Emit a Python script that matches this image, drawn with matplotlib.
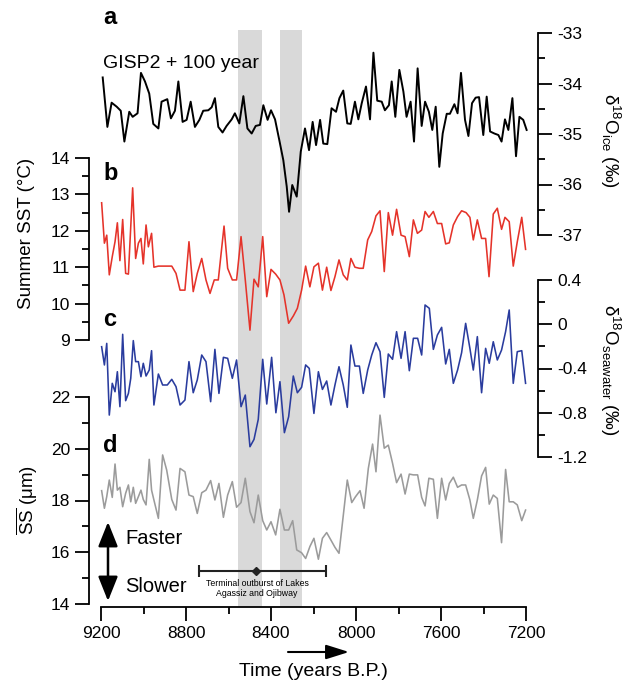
import matplotlib
matplotlib.use('Agg')
import matplotlib.pyplot as plt
from matplotlib.ticker import MultipleLocator, FuncFormatter
from matplotlib.patches import FancyArrowPatch

plt.rcParams['font.family'] = ['Liberation Sans', 'DejaVu Sans']
plt.rcParams['mathtext.fontset'] = 'custom'
plt.rcParams['mathtext.rm'] = 'Liberation Sans'
plt.rcParams['mathtext.it'] = 'Liberation Sans:italic'
plt.rcParams['mathtext.bf'] = 'Liberation Sans:bold'
plt.rcParams['axes.unicode_minus'] = False

# ---------------- data ----------------
gisp_year = [9192, 9170, 9150, 9126, 9107, 9090, 9067, 9051, 9028, 9012, 8993, 8973, 8954, 8930,
             8915, 8888, 8871, 8852, 8836, 8816, 8797, 8778, 8758, 8737, 8719, 8695, 8679, 8664,
             8648, 8628, 8609, 8585, 8570, 8549, 8530, 8511, 8491, 8472, 8452, 8436, 8416, 8400,
             8381, 8361, 8342, 8326, 8315, 8300, 8279, 8260, 8240, 8221, 8204, 8188, 8169, 8154,
             8135, 8115, 8094, 8078, 8060, 8041, 8025, 8005, 7989, 7973, 7953, 7934, 7918, 7900,
             7879, 7864, 7845, 7832, 7815, 7796, 7777, 7762, 7743, 7727, 7710, 7691, 7675, 7657,
             7641, 7625, 7608, 7592, 7573, 7558, 7537, 7522, 7506, 7487, 7471, 7454, 7437, 7421,
             7401, 7385, 7369, 7349, 7330, 7315, 7299, 7283, 7264, 7247, 7231, 7213, 7197]
gisp_d18o = [-33.88, -34.86, -34.38, -34.46, -34.54, -35.15, -34.56, -34.66, -34.59, -33.79, -33.96,
             -34.20, -34.80, -34.89, -34.36, -34.31, -34.69, -34.54, -33.96, -34.76, -34.72, -34.36,
             -34.86, -34.72, -34.54, -34.53, -34.47, -34.29, -34.86, -34.97, -34.84, -34.71, -34.59,
             -34.79, -34.25, -34.89, -34.99, -34.84, -34.82, -34.43, -34.72, -34.53, -34.71, -35.12,
             -35.52, -36.04, -36.54, -36.01, -36.24, -35.35, -34.89, -35.32, -34.76, -35.22, -34.72,
             -35.19, -35.20, -34.49, -34.56, -34.29, -34.14, -34.79, -34.80, -34.36, -34.71, -34.39,
             -34.06, -34.71, -33.39, -34.34, -34.36, -34.53, -34.43, -33.96, -34.66, -33.73, -34.16,
             -34.66, -34.36, -35.15, -33.70, -34.84, -34.36, -34.56, -34.92, -34.46, -35.65, -34.99,
             -34.60, -34.60, -34.41, -34.59, -33.79, -34.72, -35.04, -34.39, -34.28, -34.27, -35.02,
             -34.26, -34.95, -34.99, -35.02, -35.15, -34.71, -34.92, -34.29, -35.44, -34.66, -34.72,
             -34.92]

sst_year = [9197, 9184, 9173, 9161, 9147, 9134, 9123, 9111, 9098, 9084, 9071, 9051, 9037, 9024,
            9012, 9001, 8988, 8977, 8962, 8951, 8930, 8867, 8847, 8828, 8805, 8786, 8766, 8747,
            8726, 8706, 8687, 8667, 8648, 8621, 8604, 8582, 8562, 8541, 8521, 8499, 8480, 8460,
            8439, 8420, 8400, 8378, 8358, 8339, 8317, 8295, 8276, 8256, 8237, 8217, 8198, 8177,
            8158, 8138, 8118, 8099, 8080, 8060, 8041, 8024, 8005, 7984, 7966, 7945, 7926, 7906,
            7887, 7867, 7848, 7828, 7809, 7788, 7769, 7749, 7730, 7711, 7691, 7675, 7657, 7636,
            7617, 7597, 7578, 7561, 7542, 7522, 7503, 7482, 7464, 7448, 7429, 7409, 7390, 7374,
            7354, 7335, 7315, 7299, 7279, 7260, 7241, 7220, 7202]
sst = [12.77, 11.66, 11.88, 10.79, 11.29, 11.70, 12.22, 11.18, 12.31, 10.83, 10.81, 13.18, 11.24,
       11.66, 11.79, 11.09, 12.16, 11.56, 11.93, 11.00, 11.03, 11.03, 10.83, 10.37, 10.37, 11.70,
       10.33, 10.83, 11.24, 10.65, 10.28, 10.65, 10.65, 12.13, 10.97, 10.65, 10.65, 11.84, 10.65,
       9.27, 10.67, 10.46, 11.84, 10.19, 10.94, 10.81, 10.65, 10.24, 9.46, 9.66, 9.87, 10.37,
       11.03, 10.46, 11.01, 11.11, 10.37, 11.00, 10.36, 10.74, 11.20, 10.79, 10.65, 11.24, 11.00,
       10.97, 10.97, 11.75, 11.98, 12.41, 12.55, 10.88, 12.50, 11.88, 12.59, 11.88, 11.84, 11.29,
       12.30, 11.93, 12.02, 12.53, 12.37, 12.53, 12.20, 12.20, 11.64, 11.67, 12.16, 12.39, 12.55,
       12.50, 12.37, 11.75, 12.30, 11.79, 11.79, 10.74, 12.46, 12.62, 12.04, 12.37, 12.25, 11.03,
       11.70, 12.37, 11.49]

sw_year = [9197, 9184, 9173, 9161, 9147, 9134, 9123, 9111, 9098, 9084, 9071, 9060, 9048, 9037,
           9024, 9012, 9001, 8988, 8973, 8962, 8951, 8930, 8910, 8888, 8867, 8847, 8828, 8805,
           8786, 8766, 8747, 8726, 8706, 8684, 8664, 8645, 8624, 8604, 8582, 8562, 8541, 8521,
           8499, 8480, 8460, 8439, 8420, 8397, 8377, 8358, 8337, 8317, 8295, 8276, 8256, 8237,
           8220, 8198, 8177, 8158, 8138, 8118, 8099, 8080, 8060, 8041, 8024, 8005, 7984, 7966,
           7945, 7926, 7906, 7887, 7867, 7848, 7828, 7809, 7788, 7769, 7749, 7730, 7710, 7691,
           7675, 7655, 7636, 7617, 7597, 7578, 7561, 7542, 7522, 7503, 7484, 7464, 7448, 7429,
           7409, 7390, 7373, 7354, 7335, 7315, 7296, 7279, 7260, 7241, 7220, 7202]
d18o_sw = [-0.203, -0.368, -0.173, -0.821, -0.534, -0.610, -0.429, -0.745, -0.091, -0.691, -0.625,
           -0.489, -0.148, -0.338, -0.338, -0.474, -0.353, -0.468, -0.414, -0.239, -0.730, -0.450,
           -0.549, -0.549, -0.498, -0.564, -0.730, -0.685, -0.338, -0.619, -0.504, -0.278, -0.338,
           -0.700, -0.227, -0.625, -0.299, -0.308, -0.489, -0.323, -0.745, -0.640, -1.107, -1.041,
           -0.860, -0.317, -0.721, -0.299, -0.800, -0.519, -0.980, -0.836, -0.468, -0.619, -0.570,
           -0.368, -0.399, -0.806, -0.429, -0.589, -0.513, -0.730, -0.549, -0.384, -0.549, -0.751,
           -0.188, -0.378, -0.378, -0.625, -0.414, -0.278, -0.167, -0.248, -0.661, -0.269, -0.317,
           -0.067, -0.308, -0.067, -0.420, -0.127, -0.127, -0.278, 0.174, 0.144, -0.227, -0.097,
           -0.028, -0.359, -0.227, -0.534, -0.414, -0.257, 0.008, -0.218, -0.414, -0.112, -0.619,
           -0.218, -0.353, -0.158, -0.323, -0.233, -0.067, 0.129, -0.534, -0.248, -0.239, -0.534]

ss_year = [9197, 9184, 9173, 9161, 9147, 9134, 9123, 9111, 9098, 9084, 9071, 9060, 9048, 9037,
           9024, 9012, 9001, 8988, 8973, 8962, 8951, 8930, 8910, 8891, 8867, 8847, 8828, 8805,
           8786, 8766, 8747, 8726, 8706, 8684, 8664, 8645, 8624, 8604, 8582, 8562, 8541, 8521,
           8499, 8480, 8460, 8439, 8420, 8400, 8378, 8358, 8337, 8317, 8298, 8279, 8256, 8237,
           8217, 8198, 8177, 8158, 8138, 8118, 8099, 8080, 8041, 8020, 8002, 7981, 7962, 7942,
           7922, 7906, 7887, 7867, 7848, 7828, 7809, 7788, 7769, 7749, 7730, 7710, 7691, 7675,
           7657, 7636, 7617, 7597, 7578, 7561, 7542, 7522, 7503, 7484, 7464, 7448, 7429, 7409,
           7390, 7373, 7354, 7335, 7315, 7296, 7279, 7260, 7241, 7220, 7202]
ss = [18.38, 17.70, 18.15, 18.79, 18.12, 19.41, 18.40, 18.51, 17.76, 18.28, 18.60, 17.95, 18.51,
      17.89, 18.15, 18.40, 18.04, 17.83, 19.59, 18.40, 18.02, 17.31, 19.76, 19.18, 18.04, 17.63,
      19.24, 19.11, 18.21, 18.15, 17.50, 18.30, 18.40, 18.77, 18.02, 18.66, 17.35, 18.21, 18.73,
      17.74, 17.92, 18.86, 17.57, 17.14, 18.21, 17.22, 16.86, 17.18, 16.67, 17.66, 16.86, 16.86,
      17.22, 16.09, 15.98, 15.76, 16.22, 16.54, 15.73, 16.54, 16.76, 16.47, 16.19, 15.96, 18.79,
      17.92, 18.15, 18.38, 17.70, 19.24, 20.18, 19.11, 21.30, 20.02, 20.14, 19.44, 18.69, 19.02,
      18.25, 19.02, 18.99, 18.99, 18.12, 17.79, 18.86, 18.82, 17.31, 18.86, 18.02, 18.66, 18.90,
      18.51, 18.60, 18.60, 18.02, 17.31, 18.02, 18.95, 19.28, 17.86, 18.21, 18.08, 16.37, 19.20,
      17.95, 17.95, 17.83, 17.22, 17.63]

bands = [(8555, 8442), (8358, 8254)]          # shaded intervals (years B.P.)
outburst_year = 8470                          # terminal outburst estimate
outburst_err = [[330], [270]]                 # towards younger / older
outburst_level = 15.28                        # height on the grain-size scale

# ---------------- layout ----------------
W, H = 631, 682
fig = plt.figure(figsize=(W / 100, H / 100), dpi=100)


def add_px_axes(x0, x1, ytop, ybot, **kw):
    return fig.add_axes([x0 / W, 1 - ybot / H, (x1 - x0) / W, (ybot - ytop) / H], **kw)


def ftext(x, y, s, **kw):
    return fig.text(x / W, 1 - y / H, s, **kw)


def fmt(v, p):
    return '%g' % (round(v, 2) + 0.0)


X_L, X_R = 101, 526
XLIM = (9200, 7200)
LW_SP = 1.3
TICK_FS = 12.5

ax_bg = add_px_axes(X_L, X_R, 30, 607)
ax_bg.set_xlim(*XLIM)
ax_bg.set_ylim(0, 1)
for s in ['top', 'left', 'right']:
    ax_bg.spines[s].set_visible(False)
ax_bg.spines['bottom'].set_linewidth(LW_SP)
ax_bg.set_yticks([])
ax_bg.xaxis.set_major_locator(MultipleLocator(400))
ax_bg.xaxis.set_minor_locator(MultipleLocator(200))
ax_bg.tick_params(axis='x', which='major', length=10, width=LW_SP, labelsize=TICK_FS, pad=4)
ax_bg.tick_params(axis='x', which='minor', length=5, width=LW_SP)
for b0, b1 in bands:
    ax_bg.axvspan(b0, b1, color='#d9d9d9', lw=0, zorder=0)


def series_axes(ytop, ybot, side, ylim, major, minor):
    ax = add_px_axes(X_L, X_R, ytop, ybot)
    ax.patch.set_visible(False)
    ax.set_xlim(*XLIM)
    ax.set_ylim(*ylim)
    for s in ['top', 'bottom', 'left', 'right']:
        ax.spines[s].set_visible(s == side)
    ax.spines[side].set_linewidth(LW_SP)
    ax.spines[side].set_position(('outward', 8.3 if side == 'left' else 8.6))
    ax.set_xticks([])
    if side == 'right':
        ax.yaxis.set_ticks_position('right')
    else:
        ax.yaxis.set_ticks_position('left')
    ax.yaxis.set_major_locator(MultipleLocator(major))
    ax.yaxis.set_minor_locator(MultipleLocator(minor))
    ax.yaxis.set_major_formatter(FuncFormatter(fmt))
    ax.tick_params(axis='y', which='major', length=10, width=LW_SP, labelsize=TICK_FS, pad=4)
    ax.tick_params(axis='y', which='minor', length=5, width=LW_SP)
    return ax


ax_a = series_axes(33, 235, 'right', (-37, -33), 1, 0.5)
ax_b = series_axes(158, 340, 'left', (9, 14), 1, 0.5)
ax_c = series_axes(280, 457, 'right', (-1.2, 0.4), 0.4, 0.2)
ax_d = series_axes(397, 604, 'left', (14, 22), 2, 1)

ax_a.plot(gisp_year, gisp_d18o, color='black', lw=1.4, clip_on=False)
ax_b.plot(sst_year, sst, color='#e5332a', lw=1.15, clip_on=False)
ax_c.plot(sw_year, d18o_sw, color='#2a3c9e', lw=1.15, clip_on=False)
ax_d.plot(ss_year, ss, color='#9b9b9b', lw=1.15, clip_on=False)

ax_d.errorbar([outburst_year], [outburst_level], xerr=outburst_err, fmt='D', color='#222222',
              ms=4, lw=1.5, capsize=4.5, capthick=1.5, clip_on=False)

# ---------------- texts ----------------
for letter, yy in [('a', 17), ('b', 173), ('c', 320), ('d', 445)]:
    ftext(103, yy, letter, fontsize=17, fontweight='bold', ha='left', va='center')

ftext(103, 63, 'GISP2 + 100 year', fontsize=14, ha='left', va='center')
ftext(125, 538, 'Faster', fontsize=14.5, ha='left', va='center')
ftext(125, 587, 'Slower', fontsize=14.5, ha='left', va='center')
ftext(257, 583, 'Terminal outburst of Lakes', fontsize=6.3, ha='center', va='center')
ftext(257, 593, 'Agassiz and Ojibway', fontsize=6.3, ha='center', va='center')

ftext(313.5, 672, 'Time (years B.P.)', fontsize=14, ha='center', va='center')
ftext(27, 233, 'Summer SST (°C)', fontsize=13.5, rotation=90, ha='center', va='center')
ftext(27, 500, r'$\overline{\mathrm{SS}}$ (μm)', fontsize=13.5, rotation=90, ha='center', va='center')
ftext(610, 141, r'δ$^{18}$O$_{\mathrm{ice}}$ (‰)', fontsize=13.5, rotation=270, ha='center', va='center')
ftext(610, 370, r'δ$^{18}$O$_{\mathrm{seawater}}$ (‰)', fontsize=13.5, rotation=270, ha='center', va='center')

# arrows
fa = FancyArrowPatch((108 / W, 1 - 522 / H), (108 / W, 1 - 601 / H), transform=fig.transFigure,
                     arrowstyle='<|-|>,head_length=0.75,head_width=0.3', mutation_scale=20,
                     lw=1.8, color='black', shrinkA=0, shrinkB=0)
fig.add_artist(fa)
ta = FancyArrowPatch((288 / W, 1 - 652 / H), (349 / W, 1 - 652 / H), transform=fig.transFigure,
                     arrowstyle='-|>,head_length=0.7,head_width=0.22', mutation_scale=20,
                     lw=1.5, color='black', shrinkA=0, shrinkB=0)
fig.add_artist(ta)

fig.savefig('out.png', dpi=100)
